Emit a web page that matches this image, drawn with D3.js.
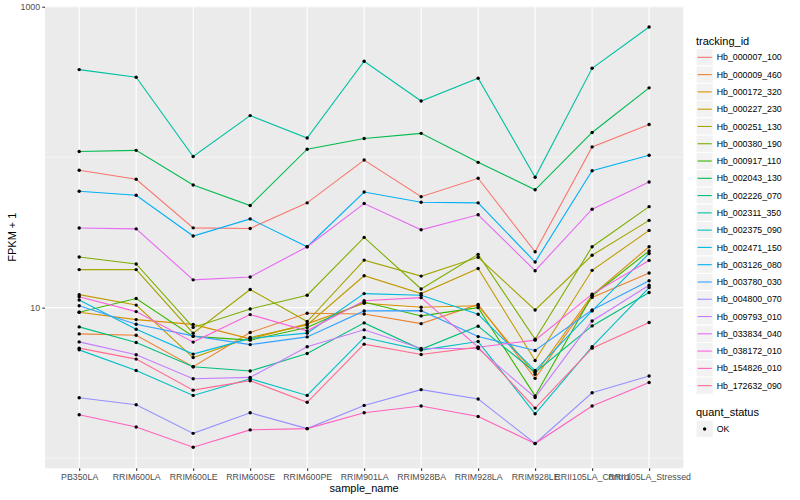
<!DOCTYPE html>
<html>
<head>
<meta charset="utf-8">
<title>FPKM by sample</title>
<script src="https://d3js.org/d3.v7.min.js"></script>
<style>
  body { margin: 0; background: #fff; }
  svg text { font-family: "Liberation Sans", Arial, Helvetica, sans-serif; }
  .tick-label { fill: #4D4D4D; font-size: 8.8px; }
  .axis-title { fill: #000; font-size: 11px; }
  .legend-title { fill: #000; font-size: 11px; }
  .legend-label { fill: #000; font-size: 8.8px; }
</style>
</head>
<body>
<script>
// samples on the x axis
var samples = ['PB350LA', 'RRIM600LA', 'RRIM600LE', 'RRIM600SE', 'RRIM600PE', 'RRIM901LA',
  'RRIM928BA', 'RRIM928LA', 'RRIM928LE', 'RRII105LA_Control', 'RRII105LA_Stressed'];

var trackingIds = ['Hb_000007_100', 'Hb_000009_460', 'Hb_000172_320', 'Hb_000227_230', 'Hb_000251_130',
  'Hb_000380_190', 'Hb_000917_110', 'Hb_002043_130', 'Hb_002226_070', 'Hb_002311_350',
  'Hb_002375_090', 'Hb_002471_150', 'Hb_003126_080', 'Hb_003780_030', 'Hb_004800_070',
  'Hb_009793_010', 'Hb_033834_040', 'Hb_038172_010', 'Hb_154826_010', 'Hb_172632_090'];

// FPKM + 1, one array per tracking_id, in sample order
var hb000007_100 = [81.8, 71.3, 33.9, 33.6, 49.7, 95.7, 54.6, 72.4, 23.5, 117, 165];
var hb000009_460 = [6.69, 6.56, 4.05, 6.83, 9.18, 9.08, 7.83, 10.5, 3.39, 11.7, 17.0];
var hb000172_320 = [9.32, 8.33, 7.74, 6.20, 7.80, 10.7, 10.06, 10.3, 3.61, 12.1, 25.4];
var hb000227_230 = [12.2, 10.4, 4.66, 6.33, 7.68, 16.3, 12.4, 18.2, 4.45, 17.7, 32.6];
var hb000251_130 = [17.9, 17.9, 6.77, 13.2, 8.08, 20.7, 16.2, 21.6, 9.65, 22.3, 38.0];
var hb000380_190 = [21.7, 19.5, 7.39, 9.80, 12.1, 29.3, 13.3, 22.6, 6.17, 25.4, 46.9];
var hb000917_110 = [9.32, 11.5, 6.44, 6.08, 7.37, 10.9, 8.81, 10.0, 2.59, 12.0, 23.8];
var hb002043_130 = [109, 111, 65.4, 47.7, 113, 133, 144, 92.4, 60.7, 146, 289];
var hb002226_070 = [7.45, 5.86, 4.05, 3.79, 4.96, 7.92, 5.28, 7.53, 3.72, 7.56, 12.6];
var hb002311_350 = [382, 340, 101, 189, 134, 434, 236, 335, 73.5, 390, 733];
var hb002375_090 = [5.24, 3.82, 2.61, 3.37, 2.61, 6.33, 5.22, 5.95, 1.97, 5.51, 13.6];
var hb002471_150 = [11.25, 7.19, 4.91, 6.25, 6.77, 12.4, 12.1, 9.04, 3.82, 9.51, 22.9];
var hb003126_080 = [59.4, 55.9, 29.9, 38.9, 25.4, 58.7, 50.2, 49.7, 20.1, 81.2, 103];
var hb003780_030 = [10.3, 7.76, 6.49, 5.68, 6.39, 9.51, 9.55, 6.42, 5.19, 9.65, 15.1];
var hb004800_070 = [2.52, 2.26, 1.46, 2.00, 1.57, 2.24, 2.85, 2.47, 1.25, 2.72, 3.51];
var hb009793_010 = [5.92, 4.86, 3.37, 3.44, 5.49, 7.12, 5.35, 5.35, 2.53, 8.16, 14.1];
var hb033834_040 = [33.8, 33.4, 15.3, 16.0, 25.4, 49.2, 32.9, 41.4, 17.6, 45.1, 68.4];
var hb038172_010 = [11.8, 9.41, 5.90, 8.99, 7.01, 11.1, 11.65, 5.46, 6.08, 12.3, 20.6];
var hb154826_010 = [1.94, 1.61, 1.18, 1.54, 1.57, 2.00, 2.22, 1.89, 1.25, 2.22, 3.18];
var hb172632_090 = [5.38, 4.55, 2.83, 3.27, 2.35, 5.72, 4.88, 5.46, 2.15, 5.38, 7.96];

var seriesValues = [hb000007_100, hb000009_460, hb000172_320, hb000227_230, hb000251_130,
  hb000380_190, hb000917_110, hb002043_130, hb002226_070, hb002311_350,
  hb002375_090, hb002471_150, hb003126_080, hb003780_030, hb004800_070,
  hb009793_010, hb033834_040, hb038172_010, hb154826_010, hb172632_090];

var quantStatus = ['OK'];
var yTicks = [10, 1000];
var yMinor = [1, 100];

// ggplot default hue palette for 20 levels
var palette = ['#F8766D', '#EA8331', '#D89000', '#C09B00', '#A3A500', '#7CAE00', '#39B600',
  '#00BB4E', '#00BF7D', '#00C1A3', '#00BFC4', '#00BAE0', '#00B0F6', '#35A2FF', '#9590FF',
  '#C77CFF', '#E76BF3', '#FA62DB', '#FF62BC', '#FF6C91'];

// panel box
var LEFT = 45, TOP = 6, RIGHT = 683.3, BOTTOM = 468.3;

var svg = d3.select('body').append('svg')
  .attr('width', 800)
  .attr('height', 500);

var x = d3.scalePoint()
  .domain(samples)
  .range([LEFT, RIGHT])
  .padding(0.6);

// log scale with ggplot's 5% expansion
var all = d3.merge(seriesValues);
var lo = Math.log10(d3.min(all)), hi = Math.log10(d3.max(all));
var pad = (hi - lo) * 0.05;
var y = d3.scaleLog()
  .domain([Math.pow(10, lo - pad), Math.pow(10, hi + pad)])
  .range([BOTTOM, TOP]);

// panel background + grid
svg.append('rect')
  .attr('x', LEFT).attr('y', TOP)
  .attr('width', RIGHT - LEFT).attr('height', BOTTOM - TOP)
  .attr('fill', '#EBEBEB');

var grid = svg.append('g');
grid.selectAll('.minor').data(yMinor).enter().append('line')
  .attr('x1', LEFT).attr('x2', RIGHT)
  .attr('y1', function(d) { return y(d); })
  .attr('y2', function(d) { return y(d); })
  .attr('stroke', '#fff').attr('stroke-width', 0.53);
grid.selectAll('.major').data(yTicks).enter().append('line')
  .attr('x1', LEFT).attr('x2', RIGHT)
  .attr('y1', function(d) { return y(d); })
  .attr('y2', function(d) { return y(d); })
  .attr('stroke', '#fff').attr('stroke-width', 1.07);
grid.selectAll('.vmajor').data(samples).enter().append('line')
  .attr('y1', TOP).attr('y2', BOTTOM)
  .attr('x1', function(d) { return x(d); })
  .attr('x2', function(d) { return x(d); })
  .attr('stroke', '#fff').attr('stroke-width', 1.07);

// lines
var line = d3.line()
  .x(function(d, i) { return x(samples[i]); })
  .y(function(d) { return y(d); });

svg.append('g').selectAll('path')
  .data(seriesValues).enter().append('path')
  .attr('d', line)
  .attr('fill', 'none')
  .attr('stroke', function(d, i) { return palette[i]; })
  .attr('stroke-width', 1.1);

// points
var pts = svg.append('g');
seriesValues.forEach(function(vals) {
  pts.selectAll(null).data(vals).enter().append('circle')
    .attr('cx', function(d, i) { return x(samples[i]); })
    .attr('cy', function(d) { return y(d); })
    .attr('r', 1.7)
    .attr('fill', '#000');
});

// axes
var xAxis = svg.append('g').attr('transform', 'translate(0,' + BOTTOM + ')')
  .call(d3.axisBottom(x).tickSize(2.75).tickPadding(2.5));
var yAxis = svg.append('g').attr('transform', 'translate(' + LEFT + ',0)')
  .call(d3.axisLeft(y).tickValues(yTicks).tickFormat(d3.format('d')).tickSize(2.75).tickPadding(2.2));

[xAxis, yAxis].forEach(function(a) {
  a.select('.domain').remove();
  a.selectAll('.tick line').attr('stroke', '#333333').attr('stroke-width', 1.07);
  a.selectAll('.tick text').attr('class', 'tick-label').attr('fill', null)
    .attr('font-family', null).attr('font-size', null);
});
xAxis.selectAll('.tick text').attr('dy', '0.71em');

svg.append('text').attr('class', 'axis-title')
  .attr('x', (LEFT + RIGHT) / 2).attr('y', 492)
  .attr('text-anchor', 'middle').text('sample_name');

svg.append('text').attr('class', 'axis-title')
  .attr('transform', 'translate(16,' + ((TOP + BOTTOM) / 2) + ') rotate(-90)')
  .attr('text-anchor', 'middle').text('FPKM + 1');

// legend: tracking_id
var KEY = 17.28, LX = 696, row0 = 48.7;
var legend = svg.append('g');
legend.append('text').attr('class', 'legend-title')
  .attr('x', LX).attr('y', 44.5).text('tracking_id');

var rows = legend.selectAll('.row').data(trackingIds).enter().append('g')
  .attr('transform', function(d, i) { return 'translate(' + LX + ',' + (row0 + i * KEY) + ')'; });
rows.append('rect')
  .attr('width', KEY).attr('height', KEY)
  .attr('fill', '#F2F2F2').attr('stroke', '#fff').attr('stroke-width', 1);
rows.append('line')
  .attr('x1', 1.5).attr('x2', KEY - 1.5)
  .attr('y1', KEY / 2).attr('y2', KEY / 2)
  .attr('stroke', function(d, i) { return palette[i]; })
  .attr('stroke-width', 1.1);
rows.append('text').attr('class', 'legend-label')
  .attr('x', KEY + 3.4).attr('y', KEY / 2 + 3.1)
  .text(function(d) { return d; });

// legend: quant_status
legend.append('text').attr('class', 'legend-title')
  .attr('x', LX).attr('y', 416).text('quant_status');
var qrows = legend.selectAll('.qrow').data(quantStatus).enter().append('g')
  .attr('transform', function(d, i) { return 'translate(' + LX + ',' + (420.4 + i * KEY) + ')'; });
qrows.append('rect')
  .attr('width', KEY).attr('height', KEY)
  .attr('fill', '#F2F2F2').attr('stroke', '#fff').attr('stroke-width', 1);
qrows.append('circle')
  .attr('cx', KEY / 2).attr('cy', KEY / 2).attr('r', 1.7).attr('fill', '#000');
qrows.append('text').attr('class', 'legend-label')
  .attr('x', KEY + 3.4).attr('y', KEY / 2 + 3.1)
  .text(function(d) { return d; });
</script>
</body>
</html>
